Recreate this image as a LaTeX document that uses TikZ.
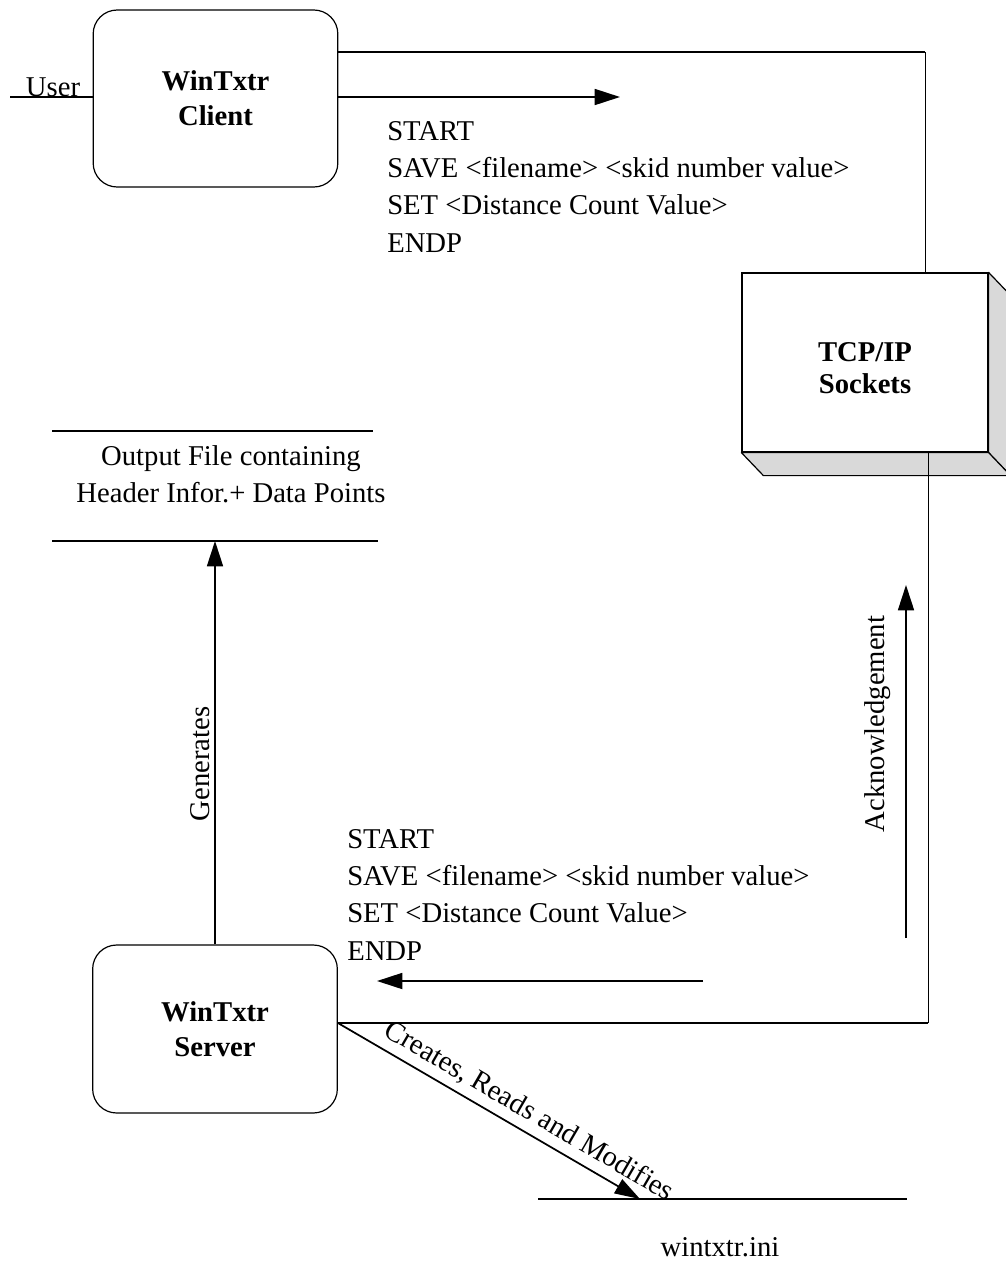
\documentclass[tikz,border=0pt]{standalone}
\usepackage{fontspec}
\setmainfont{Liberation Serif}
\usetikzlibrary{arrows.meta,calc}
\begin{document}
\begin{tikzpicture}[x=0.75pt,y=-0.75pt,
  txt/.style={font=\fontsize{21.5}{28}\selectfont, inner sep=0pt},
  proc/.style={draw, line width=0.9pt, rounded corners=18pt,
    minimum width=183.5pt, align=center,
    font=\fontsize{21.5}{26}\selectfont\bfseries},
  flow/.style={line width=1.3pt, -{Triangle[length=19pt,width=12pt]}},
  wire/.style={line width=1.2pt},
  hair/.style={line width=0.6pt},
  store/.style={line width=1.1pt},
  face/.style={fill=gray!30, draw, line width=0.9pt, line join=round}]
\useasboundingbox (0,0) rectangle (1006,1286);

% processes
\node[proc, minimum height=132.75pt] (client) at (215.5,98.5) {WinTxtr\\Client};
\node[proc, minimum height=126pt] (server) at (215,1029) {WinTxtr\\Server};

% socket block with its shaded side and bottom faces
\node[draw, line width=0.9pt, minimum width=184.5pt, minimum height=134.25pt] (tcp) at (865,362.5) {};
\node[align=center, font=\fontsize{21.5}{24}\selectfont\bfseries] (tcplabel)
  at ($(tcp.center)+(0,6)$) {TCP/IP\\Sockets};
\draw[face] (tcp.north east) -- ++(22,23) -- ($(tcp.south east)+(22,23)$) -- (tcp.south east) -- cycle;
\draw[face] (tcp.south west) -- (tcp.south east) -- ++(22,23) -- ($(tcp.south west)+(22,23)$) -- cycle;

% user input
\coordinate (userin) at (10,97);
\node[txt] (user) at (53,87) {User};
\draw[wire] (userin) -- (userin -| client.west);

% client to sockets
\coordinate (topbend) at (925,52);
\coordinate (sockin) at (620,97);
\draw[wire] (client.east |- topbend) -- (topbend);
\draw[hair] (topbend) -- (topbend |- tcp.north);
\draw[flow] (client.east |- sockin) -- (sockin);
\node[txt, anchor=north west, align=left] (cmdsup) at (387,121)
  {START\\SAVE <filename> <skid number value>\\SET <Distance Count Value>\\ENDP};

% sockets to server
\coordinate (botbend) at (928,1023);
\draw[hair] (tcp.south -| botbend) -- (botbend);
\draw[wire] (botbend) -- (botbend -| server.east);
\coordinate (ackfoot) at (906,938);
\coordinate (acktip) at (906,585);
\draw[flow] (ackfoot) -- (acktip);
\node[txt, rotate=90] (ack) at (878,724) {Acknowledgement};
\coordinate (cmdfrom) at (703,981);
\coordinate (cmdto) at (377,981);
\draw[flow] (cmdfrom) -- (cmdto);
\node[txt, anchor=north west, align=left] (cmdsdown) at (347,829)
  {START\\SAVE <filename> <skid number value>\\SET <Distance Count Value>\\ENDP};

% output file store
\coordinate (outTL) at (52,431);
\coordinate (outTR) at (373,431);
\coordinate (outBL) at (52,541);
\coordinate (outBR) at (378,541);
\draw[store] (outTL) -- (outTR);
\draw[store] (outBL) -- (outBR);
\node[txt, align=center] (outfile) at (231,474) {Output File containing\\Header Infor.+ Data Points};
\draw[flow] (server.north) -- (server.north |- outBL);
\node[txt, rotate=90] (gen) at (200,764) {Generates};

% ini file store
\coordinate (iniL) at (538,1199);
\coordinate (iniR) at (907,1199);
\coordinate (inihit) at (640,1199);
\draw[store] (iniL) -- (iniR);
\node[txt] (ini) at (720,1247) {wintxtr.ini};
\draw[flow] (server.east |- botbend) -- (inihit)
  node[txt, sloped, above=5pt, pos=0.6] (crm) {Creates, Reads and Modifies};
\end{tikzpicture}
\end{document}
